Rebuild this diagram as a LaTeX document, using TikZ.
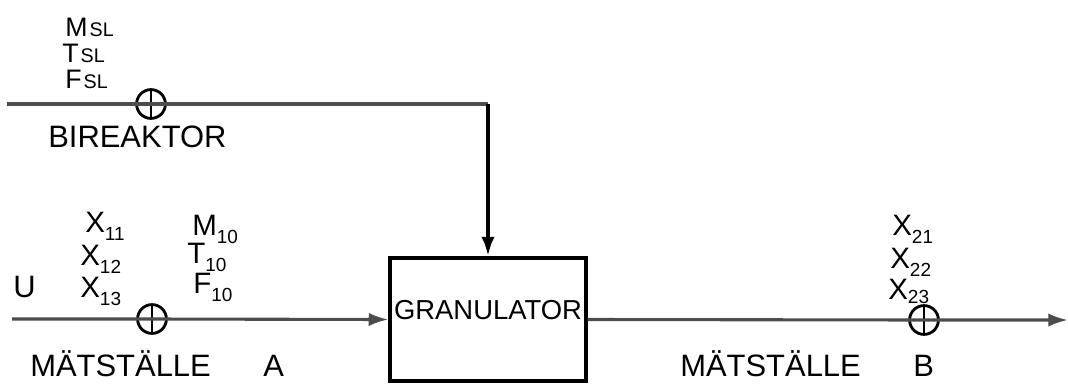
\documentclass[tikz,border=0pt]{standalone}
\usepackage{fontspec}
\setmainfont{Liberation Sans}
\usetikzlibrary{arrows.meta}

\newcommand{\idx}[2][6pt]{\raisebox{-#1}{\fontsize{13.5}{14}\selectfont #2}}
\newcommand{\sm}[1]{\kern1.5pt{\fontsize{14}{14}\selectfont #1}}

\tikzset{
  lbl/.style={inner sep=0pt, anchor=base west, font=\fontsize{22}{26}\selectfont},
  var/.style={lbl, font=\fontsize{21}{24}\selectfont},
  flow/.style={line width=2.2pt, black!70},
  meas/.style={circle, draw, line width=2pt, minimum size=0.72cm, inner sep=0pt,
    path picture={\draw[line width=2pt] (path picture bounding box.north) -- (path picture bounding box.south);}},
}

\begin{document}
\begin{tikzpicture}[x=0.025cm, y=-0.025cm, >={Latex[length=14pt,width=9.5pt]}]
    \useasboundingbox (0,0) rectangle (1068,383);

    % granulator
    \node[draw, line width=2.2pt, minimum width=4.9cm, minimum height=3.075cm, inner sep=0pt,
      text height=14pt, text depth=14pt, font=\fontsize{19.5}{22}\selectfont] (gran) at (488,319.5) {GRANULATOR};

    % measuring points
    \coordinate (inSL) at (7,104);
    \coordinate (inA) at (12,319);
    \coordinate (outB) at (1068,320);
    \node[meas] (sSL) at (151,104) {};
    \node[meas] (sA) at (152,319) {};
    \node[meas] (sB) at (924,320) {};
    \coordinate (knee) at (gran.north |- sSL);

    \draw[flow] (inSL) -- (sSL.center) -- (knee);
    \draw[->, line width=3pt] (knee) -- (gran.north);
    \draw[flow, ->] (inA) -- (sA.center) -- (gran.west);
    \draw[flow, ->] (gran.east) -- (sB.center) -- (outB);

    % side stream
    \node[var, font=\fontsize{19}{22}\selectfont] (mSL) at (65,36) {M\sm{SL}};
    \node[var, font=\fontsize{19}{22}\selectfont] (tSL) at (62,62) {T\sm{SL}};
    \node[var, font=\fontsize{19}{22}\selectfont] (fSL) at (65,88) {F\sm{SL}};
    \node[lbl] (bir) at (48,147) {BIREAKTOR};

    % point A
    \node[lbl] (u) at (13,297) {U};
    \node[var] (x11) at (85,232) {X\idx{11}};
    \node[var] (x12) at (80,265) {X\idx{12}};
    \node[var] (x13) at (80,297) {X\idx{13}};
    \node[var] (m10) at (192,235) {M\idx{10}};
    \node[var] (t10) at (187,263) {T\idx{10}};
    \node[var] (f10) at (193,293) {F\idx{10}};
    \node[lbl] (mA) at (30,376) {MÄTSTÄLLE};
    \node[lbl] (lA) at (263,376) {A};

    % point B
    \node[var] (x21) at (892,235) {X\idx{21}};
    \node[var] (x22) at (890,268) {X\idx{22}};
    \node[var] (x23) at (888,299) {X\idx[3pt]{23}};
    \node[lbl] (mB) at (680,376) {MÄTSTÄLLE};
    \node[lbl] (lB) at (913,376) {B};
\end{tikzpicture}
\end{document}
